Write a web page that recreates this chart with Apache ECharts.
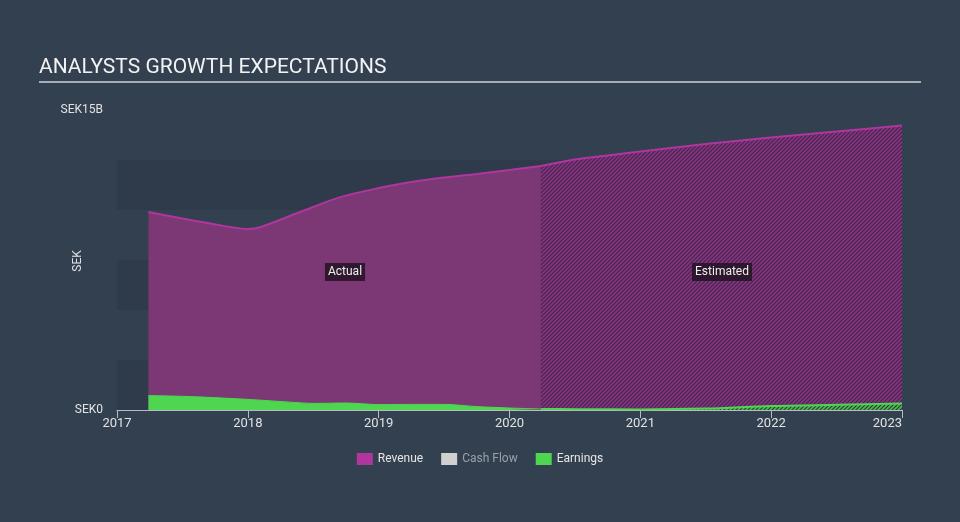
<!DOCTYPE html>
<html>
<head>
<meta charset="utf-8">
<script src="https://cdn.jsdelivr.net/npm/echarts@6/dist/echarts.min.js"></script>
<style>
html,body{margin:0;padding:0;background:#334050;}
#chart{width:960px;height:522px;}
</style>
</head>
<body>
<div id="chart"></div>
<script>
// ---- data (years as decimal, values in SEK billions) ----
const revenueActualYears = [2017.24, 2017.5, 2017.75, 2018.0, 2018.1, 2018.4, 2018.7, 2019.0, 2019.25, 2019.5, 2019.75, 2020.0, 2020.24];
const revenueActual      = [9.9, 9.57, 9.28, 9.05, 9.15, 9.9, 10.63, 11.1, 11.4, 11.62, 11.8, 12.0, 12.2];
const revenueEstYears    = [2020.24, 2020.5, 2020.75, 2021.0, 2021.5, 2022.0, 2022.5, 2023.0];
const revenueEst         = [12.2, 12.52, 12.72, 12.92, 13.3, 13.62, 13.92, 14.22];
const earningsActualYears= [2017.24, 2017.56, 2018.0, 2018.35, 2018.5, 2018.75, 2019.0, 2019.25, 2019.5, 2019.75, 2020.0, 2020.24];
const earningsActual     = [0.72, 0.67, 0.53, 0.38, 0.33, 0.35, 0.27, 0.28, 0.28, 0.17, 0.1, 0.05];
const earningsEstYears   = [2020.24, 2020.5, 2021.0, 2021.5, 2022.0, 2022.5, 2023.0];
const earningsEst        = [0.05, 0.04, 0.03, 0.07, 0.2, 0.26, 0.32];
const cashFlow           = [];
const xTicks = [2017, 2018, 2019, 2020, 2021, 2022, 2023];

function zip(xs, ys){ return xs.map((x,i)=>[x, ys[i]]); }

function hatch(color, bg){
  const c = document.createElement('canvas');
  c.width = 4; c.height = 4;
  const g = c.getContext('2d');
  g.fillStyle = bg;
  g.fillRect(0,0,4,4);
  g.strokeStyle = color;
  g.lineWidth = 1.8;
  g.beginPath();
  g.moveTo(-1,5); g.lineTo(5,-1);
  g.moveTo(-1,1); g.lineTo(1,-1);
  g.moveTo(3,5); g.lineTo(5,3);
  g.stroke();
  return c;
}

const chart = echarts.init(document.getElementById('chart'), null, {renderer:'canvas'});
const option = {
  backgroundColor: '#334050',
  animation: false,
  grid: {left:117, right:58, top:110, bottom:112},
  legend: {
    bottom: 52, left: 'center', itemWidth: 16, itemHeight: 12, itemGap: 18,
    icon: 'rect',
    textStyle: {color:'#e6e6e6', fontSize:12, fontFamily:'Roboto'},
    data: [
      {name:'Revenue'},
      {name:'Cash Flow', textStyle:{color:'#9aa0a8'}},
      {name:'Earnings'}
    ],
    selectedMode: false
  },
  xAxis: {
    type:'value', min:2017, max:2023, interval:1,
    axisLine:{show:true, lineStyle:{color:'#b6bcc4', width:1}},
    axisTick:{show:true, length:8, lineStyle:{color:'#b6bcc4'}},
    axisLabel:{color:'#e2e2e2', fontSize:13, fontFamily:'Roboto', margin:7, alignMaxLabel:'right',
      formatter: v => xTicks.includes(v) ? String(v) : ''},
    splitLine:{show:false}
  },
  yAxis: {
    type:'value', min:0, max:15, interval:2.5,
    axisLine:{show:false}, axisTick:{show:false},
    axisLabel:{color:'#e2e2e2', fontSize:12, fontFamily:'Roboto', margin:14,
      formatter: v => v===0 ? 'SEK0' : (v===15 ? 'SEK15B' : '')},
    splitLine:{show:false},
    splitArea:{show:true, areaStyle:{color:['#2f3b4a','rgba(0,0,0,0)']}}
  },
  graphic: [
    {type:'text', left:39, top:57, style:{text:'ANALYSTS GROWTH EXPECTATIONS', fill:'#f2f2f2', fontSize:21, fontFamily:'Roboto'}},
    {type:'line', shape:{x1:39, y1:82, x2:921, y2:82}, style:{stroke:'#a9aeb5', lineWidth:2}},
    {type:'text', x:78, y:261, rotation:Math.PI/2, style:{text:'SEK', fill:'#e2e2e2', fontSize:12, fontFamily:'Roboto', align:'center', verticalAlign:'middle'}},
    {type:'text', x:345, y:272, style:{text:'Actual', fill:'#eeeeee', fontSize:12, fontFamily:'Roboto', align:'center', verticalAlign:'middle', backgroundColor:'rgba(35,20,35,0.85)', padding:[3,3,3,3]}, z:100},
    {type:'text', x:722, y:272, style:{text:'Estimated', fill:'#eeeeee', fontSize:12, fontFamily:'Roboto', align:'center', verticalAlign:'middle', backgroundColor:'rgba(35,20,35,0.85)', padding:[3,3,3,3]}, z:100}
  ],
  series: [
    {name:'Revenue', type:'line', smooth:0.3, symbol:'none', color:'#b0369f',
     lineStyle:{color:'#b0369f', width:2}, areaStyle:{color:'#7b3874', opacity:1},
     data: zip(revenueActualYears, revenueActual), z:2},
    {name:'Revenue', type:'line', smooth:0.3, symbol:'none', color:'#b0369f',
     lineStyle:{color:'#b0369f', width:2}, areaStyle:{color:{image:hatch('rgba(140,48,132,1)','rgba(55,42,66,0.95)'), repeat:'repeat'}, opacity:1},
     data: zip(revenueEstYears, revenueEst), z:2},
    {name:'Cash Flow', type:'line', symbol:'none', color:'#d0d0d0', data: cashFlow},
    {name:'Earnings', type:'line', smooth:0.3, symbol:'none', color:'#4fd651',
     lineStyle:{color:'#4fd651', width:1}, areaStyle:{color:'#4fd651', opacity:1},
     data: zip(earningsActualYears, earningsActual), z:3},
    {name:'Earnings', type:'line', smooth:0.3, symbol:'none', color:'#4fd651',
     lineStyle:{color:'#4fd651', width:2}, areaStyle:{color:{image:hatch('rgba(79,214,81,0.85)','rgba(40,50,55,0.9)'), repeat:'repeat'}, opacity:1},
     data: zip(earningsEstYears, earningsEst), z:3}
  ]
};
chart.setOption(option);
</script>
</body>
</html>
